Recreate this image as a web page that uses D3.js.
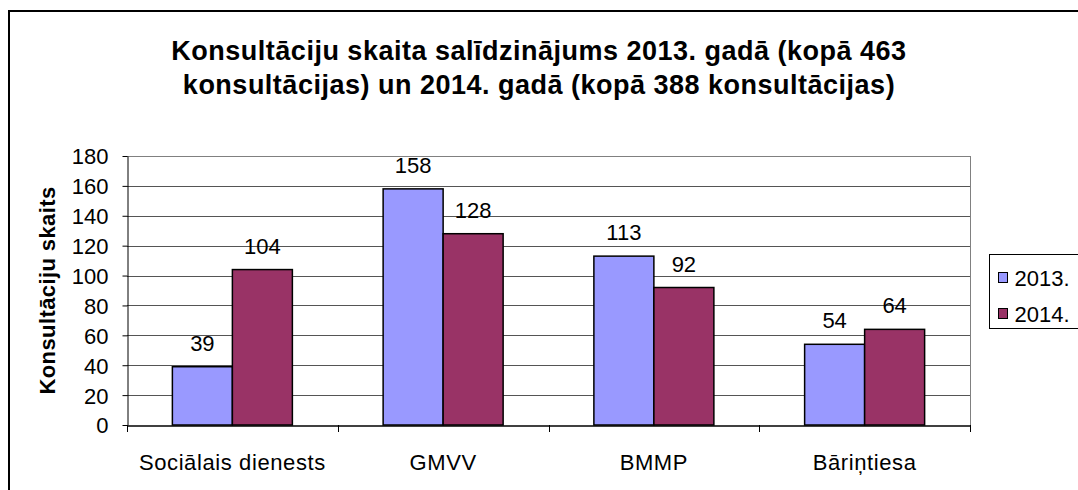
<!DOCTYPE html>
<html>
<head>
<meta charset="utf-8">
<script src="https://cdn.jsdelivr.net/npm/d3@7"></script>
<style>
  body { margin: 0; background: #fff; }
  svg { font-family: "Liberation Sans", Arial, sans-serif; }
</style>
</head>
<body>
<div id="chart"></div>
<script>
const categories = ["Sociālais dienests", "GMVV", "BMMP", "Bāriņtiesa"];
const seriesNames = ["2013.", "2014."];
const values2013 = [39, 158, 113, 54];
const values2014 = [104, 128, 92, 64];
const yTicks = [0, 20, 40, 60, 80, 100, 120, 140, 160, 180];
const colors = ["#9999FF", "#993366"];

const W = 1078, H = 490;
const plot = { left: 127, right: 970, top: 156, bottom: 425 };
const fs = "22px";

const svg = d3.select("#chart").append("svg")
  .attr("width", W).attr("height", H);

// outer frame (runs off the right and bottom)
svg.append("rect")
  .attr("x", 9).attr("y", 11)
  .attr("width", W + 20).attr("height", H + 20)
  .attr("fill", "#fff").attr("stroke", "#000").attr("stroke-width", 2);

// title
const title = svg.append("text")
  .attr("text-anchor", "middle")
  .attr("font-size", "27px").attr("font-weight", "bold")
  .attr("letter-spacing", "0.5px");
title.append("tspan").attr("x", 539).attr("y", 60)
  .text("Konsultāciju skaita salīdzinājums 2013. gadā (kopā 463");
title.append("tspan").attr("x", 539).attr("y", 94)
  .text("konsultācijas) un 2014. gadā (kopā 388 konsultācijas)");

const x0 = d3.scaleBand().domain(categories)
  .range([plot.left, plot.right]).paddingInner(0).paddingOuter(0);
const y = d3.scaleLinear().domain([0, 180]).range([plot.bottom, plot.top]);
const barW = 60;

// gridlines
svg.append("g").selectAll("line").data(yTicks.slice(1)).join("line")
  .attr("x1", plot.left).attr("x2", plot.right)
  .attr("y1", d => Math.round(y(d)) + 0.5).attr("y2", d => Math.round(y(d)) + 0.5)
  .attr("stroke", "#555").attr("stroke-width", 1);

// plot area right border (gray)
svg.append("line")
  .attr("x1", plot.right + 0.5).attr("x2", plot.right + 0.5)
  .attr("y1", plot.top).attr("y2", plot.bottom)
  .attr("stroke", "#808080").attr("stroke-width", 1);
svg.append("line")
  .attr("x1", plot.left).attr("x2", plot.right)
  .attr("y1", Math.round(y(180)) + 0.5).attr("y2", Math.round(y(180)) + 0.5)
  .attr("stroke", "#808080").attr("stroke-width", 1);

// bars
const rows = categories.map((c, i) => ({ cat: c, vals: [values2013[i], values2014[i]] }));
const groups = svg.append("g").selectAll("g").data(rows).join("g")
  .attr("transform", d => `translate(${x0(d.cat) + x0.bandwidth() / 2 - barW},0)`);

groups.selectAll("rect").data(d => d.vals).join("rect")
  .attr("x", (d, i) => i * barW)
  .attr("y", d => y(d))
  .attr("width", barW)
  .attr("height", d => y(0) - y(d))
  .attr("fill", (d, i) => colors[i])
  .attr("stroke", "#000").attr("stroke-width", 1.5);

groups.selectAll("text").data(d => d.vals).join("text")
  .attr("x", (d, i) => i * barW + barW / 2)
  .attr("y", d => y(d) - 16)
  .attr("text-anchor", "middle")
  .attr("font-size", fs)
  .attr("fill", "#000")
  .text(d => d);

// y axis
const yAxis = svg.append("g")
  .attr("transform", `translate(${plot.left + 0.5},0)`)
  .call(d3.axisLeft(y).tickValues(yTicks).tickSize(5).tickSizeOuter(0));
yAxis.select(".domain").attr("stroke", "#000");
yAxis.selectAll(".tick line").attr("stroke", "#000");
yAxis.selectAll(".tick text")
  .attr("font-size", fs).attr("fill", "#000")
  .attr("font-family", "Liberation Sans, Arial, sans-serif")
  .attr("x", -19).attr("dy", "0.36em");

// x axis
const xAxis = svg.append("g")
  .attr("transform", `translate(0,${Math.round(y(0)) + 0.5})`)
  .call(d3.axisBottom(x0).tickSize(0).tickSizeOuter(0));
xAxis.select(".domain").attr("stroke", "#000").attr("stroke-width", 1.5);
xAxis.selectAll(".tick text")
  .attr("font-size", fs).attr("fill", "#000")
  .attr("font-family", "Liberation Sans, Arial, sans-serif")
  .attr("letter-spacing", "0.6px")
  .attr("dy", 0).attr("y", 44);

// category separator ticks
const sepX = categories.map(c => x0(c)).concat([plot.right]);
svg.append("g").selectAll("line").data(sepX).join("line")
  .attr("x1", d => Math.round(d) + 0.5).attr("x2", d => Math.round(d) + 0.5)
  .attr("y1", y(0)).attr("y2", y(0) + 7)
  .attr("stroke", "#000");

// y axis title
svg.append("text")
  .attr("transform", `translate(55,${(plot.top + plot.bottom) / 2}) rotate(-90)`)
  .attr("text-anchor", "middle")
  .attr("font-size", fs).attr("font-weight", "bold")
  .attr("letter-spacing", "0.4px")
  .text("Konsultāciju skaits");

// legend
const lg = svg.append("g").attr("transform", "translate(989.5,254.5)");
lg.append("rect").attr("width", 120).attr("height", 74)
  .attr("fill", "#fff").attr("stroke", "#000").attr("stroke-width", 1);
const li = lg.selectAll("g.item").data(seriesNames).join("g")
  .attr("class", "item")
  .attr("transform", (d, i) => `translate(0,${23 + i * 36})`);
li.append("rect").attr("x", 9).attr("y", -5).attr("width", 9).attr("height", 10)
  .attr("fill", (d, i) => colors[i]).attr("stroke", "#000");
li.append("text").attr("x", 25).attr("y", 8)
  .attr("font-size", fs).text(d => d);
</script>
</body>
</html>
